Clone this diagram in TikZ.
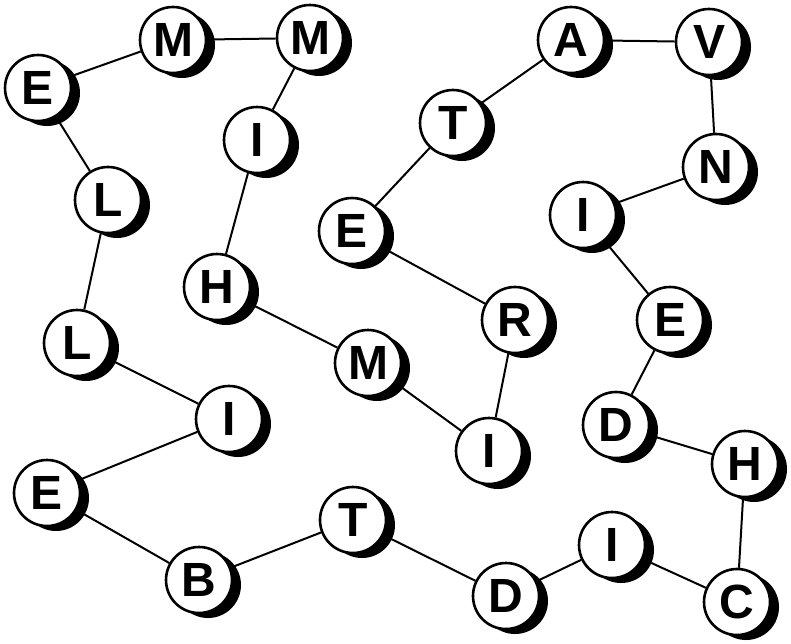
\documentclass[tikz,border=0pt]{standalone}
\usepackage{fontspec}
\setmainfont{Liberation Sans}
\usetikzlibrary{shadows,backgrounds}
\begin{document}
\begin{tikzpicture}[x=1pt,y=-1pt,
  ball/.style={circle, draw=black, line width=2.6pt, fill=white,
    minimum size=66pt, inner sep=0pt,
    font=\fontsize{48}{48}\selectfont\bfseries,
    general shadow={fill=black, shadow xshift=9pt, shadow yshift=-5pt}},
  link/.style={draw=black, line width=2pt}]
\useasboundingbox (0,0) rectangle (791,643);
\node[ball] (e1) at (38,88) {E};
\node[ball] (m1) at (173,40) {M};
\node[ball] (m2) at (310,38) {M};
\node[ball] (i1) at (257,140) {I};
\node[ball] (h1) at (217,287) {H};
\node[ball] (m3) at (368,363) {M};
\node[ball] (i2) at (489,451) {I};
\node[ball] (r1) at (515,320) {R};
\node[ball] (e2) at (352,231) {E};
\node[ball] (t1) at (453,123) {T};
\node[ball] (a1) at (571,40) {A};
\node[ball] (v1) at (709,42) {V};
\node[ball] (n1) at (716,167) {N};
\node[ball] (i3) at (583,215) {I};
\node[ball] (e3) at (670,320) {E};
\node[ball] (d1) at (616,425) {D};
\node[ball] (h2) at (745,464) {H};
\node[ball] (c1) at (737,602) {C};
\node[ball] (i4) at (612,545) {I};
\node[ball] (d2) at (506,596) {D};
\node[ball] (t2) at (353,520) {T};
\node[ball] (b1) at (199,580) {B};
\node[ball] (e4) at (47,493) {E};
\node[ball] (i5) at (229,419) {I};
\node[ball] (l2) at (77,343) {L};
\node[ball] (l1) at (108,200) {L};
\begin{scope}[on background layer]
\draw[link] (e1)--(m1)--(m2)--(i1)--(h1)--(m3)--(i2)--(r1)--(e2)--(t1)--(a1)--(v1)--(n1)--(i3)--(e3)--(d1)--(h2)--(c1)--(i4)--(d2)--(t2)--(b1)--(e4)--(i5)--(l2)--(l1)--(e1);
\end{scope}
\end{tikzpicture}
\end{document}
